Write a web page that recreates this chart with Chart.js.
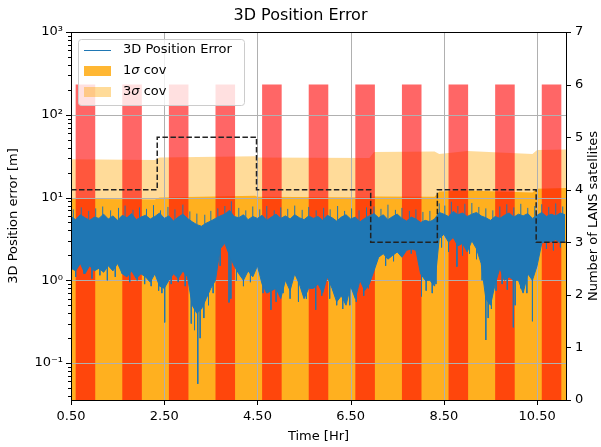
<!DOCTYPE html>
<html>
<head>
<meta charset="utf-8">
<script src="https://cdn.jsdelivr.net/npm/chart.js@4"></script>
<style>body{margin:0;background:#fff}</style>
</head>
<body>
<canvas id="chart" width="601" height="447"></canvas>
<script>
// 3D position error: core envelope sampled every 0.1 hr from 0.5 hr
const errStart = 0.5;
const errStep = 0.1;
const errHi = [5.9, 5.4, 6.2, 5.7, 5.3, 5.8,
  5.6, 6.3, 5.5, 6.0, 5.3, 6.1, 5.7, 6.4, 5.4, 5.8,
  6.1, 5.5, 5.9, 6.5, 5.6, 6.0, 5.2, 5.8, 6.3, 5.6,
  5.1, 4.7, 4.5, 4.9, 5.2,
  5.6, 6.0, 6.3, 7.0, 5.9,
  5.7, 6.2, 5.4, 5.9, 5.6, 6.1, 5.3, 5.8, 6.3, 5.6,
  6.0, 5.5, 6.2, 5.7, 5.4, 6.0, 5.6, 5.9, 5.3, 6.1,
  5.7, 5.2, 5.8, 6.2, 5.5, 5.8, 5.1, 5.6, 6.0, 6.4,
  5.7, 6.2, 5.4, 5.9, 6.3, 5.6, 5.2, 5.8, 5.5, 5.0,
  5.3, 5.1, 5.5,
  6.6, 6.3, 5.9, 6.8, 6.2, 6.5, 5.9, 6.3, 6.6, 6.0,
  5.7, 5.3, 5.9, 5.6, 6.1, 6.5, 5.8, 6.3, 6.0, 6.4, 5.6, 6.1,
  6.6, 5.9, 6.3, 6.0, 6.5, 6.2];
const errLo = [1.4, 1.3, 1.6, 1.2, 1.5, 1.3,
  1.4, 1.25, 1.5, 1.3, 1.6, 1.2, 1.1, 1.3, 1.05, 1.2,
  1.1, 0.95, 1.2, 0.85, 0.8, 1.0, 1.2, 1.05, 1.3, 1.1,
  0.5, 0.4, 0.45, 0.6, 0.8,
  1.0, 2.4, 2.8, 2.0, 1.5,
  1.2, 1.0, 1.3, 1.1, 1.5, 0.9, 0.7, 0.75, 0.8, 0.6,
  1.0, 0.75, 1.2, 0.9, 0.6, 0.8, 0.8, 0.9, 0.7, 1.1,
  0.8, 0.55, 0.65, 0.5, 0.85, 0.6, 1.0, 0.75, 0.9, 1.3,
  1.9, 2.1, 1.8, 2.0, 2.2, 1.9, 2.3, 2.4, 2.3, 1.2,
  1.0, 1.0, 0.85,
  3.2, 3.6, 2.9, 3.3, 2.6, 2.8, 2.2, 3.0, 2.4, 1.6,
  0.6, 0.5, 0.9, 1.4, 1.0, 1.1, 1.0, 1.0, 0.7, 1.2, 1.0, 1.5,
  2.8, 3.0, 2.9, 3.1, 2.8, 3.0];

// single-sample spikes of the error trace
const upT = [0.55, 0.72, 0.88, 1.03, 1.18, 1.35, 1.52, 1.66, 1.83, 1.97, 2.12, 2.27, 2.42, 2.58, 2.73, 2.9,
  3.05, 3.2, 3.37, 3.5, 3.65, 3.8, 3.94, 4.1, 4.25, 4.4, 4.55, 4.7, 4.86, 5.0, 5.15, 5.3, 5.46, 5.6,
  5.76, 5.92, 6.06, 6.22, 6.37, 6.52, 6.68, 6.84, 7.0, 7.15, 7.3, 7.46, 7.6, 7.76, 7.9, 8.05, 8.2,
  8.4, 8.52, 8.66, 8.8, 8.95, 9.1, 9.25, 9.4, 9.55, 9.7, 9.85, 10.0, 10.15, 10.3, 10.45, 10.6, 10.75,
  10.9, 11.05];
const upV = [7.2, 7.6, 6.9, 7.4, 7.8, 7.0, 7.5, 8.0, 7.1, 7.6, 7.3, 8.1, 7.0, 7.7, 7.2, 8.2,
  6.8, 6.4, 6.2, 6.9, 7.4, 7.9, 9.0, 7.5, 7.0, 7.8, 7.2, 7.9, 7.0, 7.6, 7.3, 8.0, 7.1, 7.7,
  7.0, 7.5, 7.2, 7.9, 6.9, 7.4, 7.0, 7.6, 7.8, 7.3, 8.2, 7.1, 7.5, 6.9, 7.2, 6.7, 6.9,
  8.5, 8.0, 8.9, 7.9, 8.4, 8.6, 7.7, 7.4, 7.0, 7.8, 8.3, 7.6, 8.4, 7.5, 7.9, 8.3, 7.7,
  8.5, 7.8];
const dnT = [0.6, 0.78, 0.95, 1.12, 1.28, 1.45, 1.6, 1.76, 1.92, 2.08, 2.22, 2.38, 2.45, 2.51, 2.65, 2.8,
  2.95, 3.08, 3.15, 3.22, 3.27, 3.35, 3.45, 3.55, 3.7, 3.89, 3.93, 4.05, 4.2, 4.35, 4.62, 4.79, 4.9,
  5.05, 5.2, 5.38, 5.55, 5.75, 5.88, 6.05, 6.2, 6.33, 6.48, 6.62, 6.78, 6.88, 7.05, 7.25, 7.42, 7.6,
  7.8, 7.95, 8.02, 8.12, 8.25, 8.33, 8.45, 8.6, 8.78, 8.9, 9.05, 9.2, 9.32, 9.4, 9.45, 9.52, 9.62,
  9.75, 9.86, 9.99, 10.03, 10.15, 10.28, 10.4, 10.55, 10.7, 10.85, 11.0];
const dnV = [1.1, 1.2, 1.05, 1.15, 1.0, 1.1, 1.2, 0.95, 1.0, 0.9, 0.85, 0.75, 0.7, 0.31, 0.9, 0.95,
  0.85, 0.3, 0.25, 0.056, 0.2, 0.35, 0.5, 0.7, 1.5, 0.54, 0.6, 1.0, 0.85, 0.95, 0.7, 0.44, 0.55,
  0.7, 0.6, 0.55, 0.6, 0.44, 0.65, 0.6, 0.5, 0.45, 0.5, 0.55, 0.65, 0.8, 1.6, 1.5, 1.7, 2.0,
  2.1, 1.9, 0.64, 0.75, 0.7, 0.9, 2.5, 2.2, 1.46, 2.0, 2.1, 1.8, 1.0, 0.19, 0.35, 0.45, 0.75,
  0.9, 0.77, 0.27, 0.5, 0.8, 0.7, 0.32, 2.2, 2.4, 2.3, 2.5];

// covariance bounds
const covT = [0.5, 2.3, 2.4, 4.45, 4.5, 6.9, 7.0, 8.3, 8.4, 9.0, 10.4, 10.5, 11.12];
const sigma1 = [9.7, 9.5, 10, 10.5, 10.2, 10, 10.3, 10.2, 11.8, 12.2, 11.5, 12.8, 13];
const sigma3 = [29, 28.5, 30.5, 31.5, 30.5, 30, 35.5, 36, 33.5, 36.5, 33.5, 37.5, 38];

// LANS visibility bars and satellite count
const barT = [0.81, 1.81, 2.81, 3.81, 4.81, 5.81, 6.81, 7.81, 8.81, 9.81, 10.81];
const barH = [6, 6, 6, 6, 6, 6, 6, 6, 6, 6, 6];
const satT = [0.5, 2.35, 4.48, 6.93, 8.36, 10.48, 11.12];
const satN = [4, 5, 4, 3, 4, 3, 3];

const xTicks = [0.5, 2.5, 4.5, 6.5, 8.5, 10.5];
const yLabels = {'1000': '10\u00b3', '100': '10\u00b2', '10': '10\u00b9', '1': '10\u2070', '0.1': '10\u207b\u00b9'};

const blue = '#1f77b4';
const c1 = 'rgba(255,165,0,0.8)';
const c3 = 'rgba(255,165,0,0.4)';
const FONT = 'DejaVu Sans';
Chart.defaults.font.family = FONT;
Chart.defaults.color = '#000';

const pts = (xs, ys) => xs.map((x, i) => ({x: x, y: ys[i]}));
const errT = errHi.map((_, i) => +(errStart + errStep * i).toFixed(2));
// each spike is a vertical stroke from inside the band out to its tip
const spikes = (ts, vs) => {
  const out = [];
  ts.forEach((t, i) => { out.push({x: t, y: 4}, {x: t, y: vs[i]}, {x: t, y: null}); });
  return out;
};

const yMinor = [];
[0.01, 0.1, 1, 10, 100].forEach(d => {
  for (let m = 1; m < 10; m++) {
    const v = +(d * m).toPrecision(3);
    if (v >= 0.0358) yMinor.push(v);
  }
});
yMinor.push(1000);

const overlay = {
  id: 'overlay',
  beforeDatasetDraw(chart, args) {
    if (args.index !== 1) return;
    const {ctx, chartArea: a, scales} = chart;
    ctx.save();
    ctx.strokeStyle = '#b0b0b0';
    ctx.lineWidth = 1;
    ctx.beginPath();
    scales.x.ticks.forEach(t => {
      const px = Math.round(scales.x.getPixelForValue(t.value)) + 0.5;
      ctx.moveTo(px, a.top); ctx.lineTo(px, a.bottom);
    });
    scales.y.ticks.forEach(t => {
      if (!t.label) return;
      const py = Math.round(scales.y.getPixelForValue(t.value)) + 0.5;
      ctx.moveTo(a.left, py); ctx.lineTo(a.right, py);
    });
    ctx.stroke();
    ctx.restore();
  },
  afterDatasetsDraw(chart) {
    const {ctx, chartArea: a, scales} = chart;
    ctx.save();
    // spines
    ctx.strokeStyle = '#000';
    ctx.lineWidth = 1;
    ctx.strokeRect(Math.round(a.left) + 0.5, Math.round(a.top) + 0.5, Math.round(a.right - a.left), Math.round(a.bottom - a.top));
    // tick marks
    ctx.beginPath();
    scales.x.ticks.forEach(t => {
      const px = Math.round(scales.x.getPixelForValue(t.value)) + 0.5;
      ctx.moveTo(px, a.bottom); ctx.lineTo(px, a.bottom + 5);
    });
    scales.y.ticks.forEach(t => {
      const py = Math.round(scales.y.getPixelForValue(t.value)) + 0.5;
      ctx.moveTo(a.left, py); ctx.lineTo(a.left - (t.label ? 5 : 3), py);
    });
    scales.y2.ticks.forEach(t => {
      const py = Math.round(scales.y2.getPixelForValue(t.value)) + 0.5;
      ctx.moveTo(a.right, py); ctx.lineTo(a.right + 5, py);
    });
    ctx.stroke();
    // right axis title, reading bottom to top
    ctx.fillStyle = '#000';
    ctx.font = '13px "' + FONT + '"';
    ctx.textAlign = 'center';
    ctx.textBaseline = 'middle';
    ctx.translate(594, (a.top + a.bottom) / 2);
    ctx.rotate(-Math.PI / 2);
    ctx.fillText('Number of LANS satellites', 0, 0);
    ctx.restore();

    // legend
    const ds = chart.data.datasets;
    const lx = a.left + 7, ly = a.top + 7;
    ctx.save();
    ctx.beginPath();
    ctx.roundRect(lx + 0.5, ly + 0.5, 166, 66, 3);
    ctx.fillStyle = 'rgba(255,255,255,0.8)';
    ctx.fill();
    ctx.strokeStyle = '#cccccc';
    ctx.lineWidth = 1;
    ctx.stroke();
    ctx.strokeStyle = blue;
    ctx.beginPath();
    ctx.moveTo(lx + 6, ly + 11.5); ctx.lineTo(lx + 33, ly + 11.5);
    ctx.stroke();
    ctx.fillStyle = c1;
    ctx.fillRect(lx + 6, ly + 27, 27, 10);
    ctx.fillStyle = c3;
    ctx.fillRect(lx + 6, ly + 48, 27, 10);
    ctx.fillStyle = '#000';
    ctx.textBaseline = 'middle';
    ctx.textAlign = 'left';
    const rows = [[ds[0].label, ly + 11], [ds[2].label, ly + 32], [ds[3].label, ly + 53]];
    rows.forEach(([txt, y]) => {
      let x = lx + 45;
      txt.split(/(σ)/).forEach(part => {
        if (!part) return;
        ctx.font = (part === 'σ' ? 'italic ' : '') + '13px "' + FONT + '"';
        ctx.fillText(part, x, y);
        x += ctx.measureText(part).width;
      });
    });
    ctx.restore();
  }
};

new Chart(document.getElementById('chart'), {
  type: 'line',
  data: {
    datasets: [
      {label: '3D Position Error', data: pts(errT, errHi), borderColor: blue, backgroundColor: blue,
        borderWidth: 1, pointRadius: 0, fill: '+1', order: 1, yAxisID: 'y'},
      {label: 'lo', data: pts(errT, errLo), borderColor: blue, borderWidth: 1, pointRadius: 0,
        fill: false, order: 2, yAxisID: 'y'},
      {label: '1σ cov', data: pts(covT, sigma1), borderWidth: 0, pointRadius: 0, backgroundColor: c1,
        fill: 'start', order: 4, yAxisID: 'y'},
      {label: '3σ cov', data: pts(covT, sigma3), borderWidth: 0, pointRadius: 0, backgroundColor: c3,
        fill: 'start', order: 5, yAxisID: 'y'},
      {type: 'bar', label: 'LANS', data: pts(barT, barH), backgroundColor: 'rgba(255,0,0,0.6)',
        borderWidth: 0, barPercentage: 0.42, categoryPercentage: 1, order: 3, yAxisID: 'y2'},
      {label: 'sats', data: pts(satT, satN), stepped: 'before', borderColor: '#222', borderWidth: 1.5,
        borderDash: [5.5, 2.5], pointRadius: 0, fill: false, order: 0, yAxisID: 'y2'},
      {label: 'up', data: spikes(upT, upV), borderColor: blue, borderWidth: 1, pointRadius: 0,
        fill: false, spanGaps: false, order: 1, yAxisID: 'y'},
      {label: 'down', data: spikes(dnT, dnV), borderColor: blue, borderWidth: 1, pointRadius: 0,
        fill: false, spanGaps: false, order: 1, yAxisID: 'y'}
    ]
  },
  options: {
    responsive: false,
    animation: false,
    layout: {padding: 0},
    plugins: {
      legend: {display: false},
      tooltip: {enabled: false},
      title: {display: true, text: '3D Position Error', color: '#000',
        font: {size: 16, weight: 'normal'}, padding: {top: 6.4, bottom: 6.4}}
    },
    scales: {
      x: {
        type: 'linear', min: 0.5, max: 11.12, offset: false,
        grid: {display: false, drawTicks: false}, border: {display: false},
        afterBuildTicks: s => { s.ticks = xTicks.map(v => ({value: v})); },
        afterFit: s => { s.height = 47; },
        ticks: {autoSkip: false, maxRotation: 0, padding: 9, font: {size: 13}, callback: v => v.toFixed(2)},
        title: {display: true, text: 'Time [Hr]', font: {size: 13}, padding: {top: 0, bottom: 3}}
      },
      y: {
        type: 'logarithmic', position: 'left', min: 0.0358, max: 1000,
        grid: {display: false, drawTicks: false}, border: {display: false},
        afterBuildTicks: s => { s.ticks = yMinor.map(v => ({value: v})); },
        afterFit: s => { s.width = 71; },
        ticks: {autoSkip: false, padding: 8, font: {size: 13}, callback: v => yLabels[String(v)] || ''},
        title: {display: true, text: '3D Position error [m]', font: {size: 13}, padding: {top: 6, bottom: 0}}
      },
      y2: {
        type: 'linear', position: 'right', min: 0, max: 7,
        grid: {display: false, drawTicks: false}, border: {display: false},
        afterFit: s => { s.width = 35; },
        ticks: {stepSize: 1, padding: 9, font: {size: 13}}
      }
    }
  },
  plugins: [overlay]
});
</script>
</body>
</html>
